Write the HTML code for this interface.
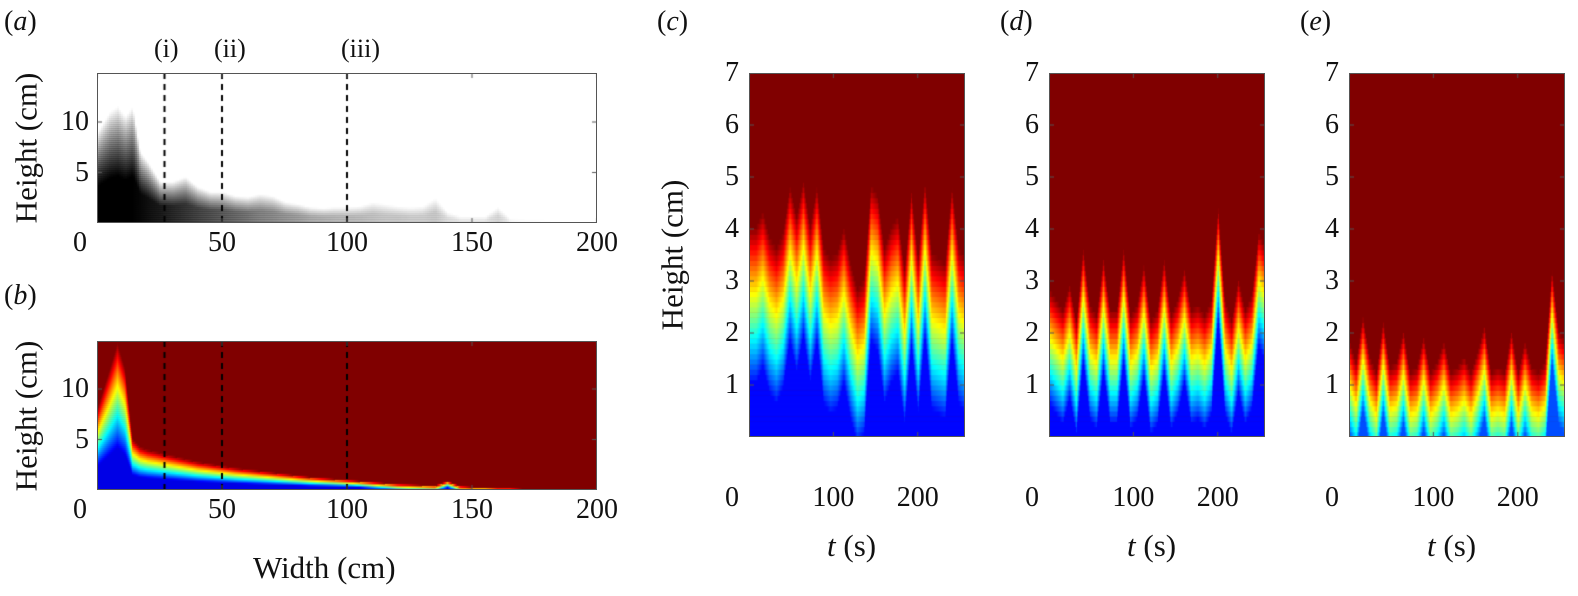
<!DOCTYPE html>
<html><head><meta charset="utf-8">
<style>
body{margin:0;background:#fff;width:1578px;height:596px;overflow:hidden;position:relative;font-family:"Liberation Serif","Times New Roman",Times,"DejaVu Serif",serif;}
.t{position:absolute;font-size:28px;color:#111;white-space:nowrap;line-height:1;font-family:"Liberation Serif","Times New Roman",Times,"DejaVu Serif",serif;}
canvas{position:absolute;}
.box{position:absolute;border:1.5px solid #555;box-sizing:border-box;}
</style></head><body>
<div class="t" style="left:4px;top:8px">(<i>a</i>)</div>
<div class="t" style="left:4px;top:282px">(<i>b</i>)</div>
<div class="t" style="left:657px;top:8px">(<i>c</i>)</div>
<div class="t" style="left:1000px;top:8px">(<i>d</i>)</div>
<div class="t" style="left:1300px;top:8px">(<i>e</i>)</div>
<div class="t" style="left:154px;top:36px;font-size:26px">(i)</div>
<div class="t" style="left:214px;top:36px;font-size:26px">(ii)</div>
<div class="t" style="left:341px;top:36px;font-size:26px">(iii)</div>
<div id="root"></div>
<script>
// ---- data ----
const widthCats=[0,5,8,11,14,17,20,25,30,35,40,45,50,55,60,65,70,75,80,85,90,95,100,105,110,115,120,125,130,135,140,145,150,155,160,165,170,175,180,190,200];
const aFront=[9,11,11.5,10.5,11.5,7,6,4,4,4.5,3.5,3,3,2.6,2.5,2.8,2.6,2,1.8,1.5,1.4,1.5,1.5,1.6,2,1.8,1.6,1.5,1.6,2.4,1,0.6,0.6,0.6,1.5,0.4,0.3,0.3,0.2,0,0];
const aDark=[1,1,1,1,1,.97,.93,.88,.82,.76,.7,.65,.6,.55,.5,.45,.42,.38,.35,.3,.28,.26,.25,.24,.22,.2,.2,.18,.18,.2,.12,.1,.1,.1,.15,.06,.05,.04,.03,0,0];
const bFront=[8,12,14.5,12,5,4.2,3.9,3.6,3.3,3.0,2.7,2.5,2.3,2.1,1.95,1.8,1.65,1.5,1.35,1.2,1.1,1.0,0.9,0.8,0.7,0.6,0.5,0.45,0.4,0.35,0.8,0.3,0.2,0.2,0.1,0.1,0,0,0,0,0];
const timeCats=[0,8,16,24,32,40,48,56,64,72,80,88,96,104,112,120,128,136,144,152,160,168,176,184,192,200,208,216,224,232,240,248,256];
const cFront=[4.0,4.0,4.3,3.8,3.6,3.9,4.8,4.2,4.9,4.0,4.8,3.6,3.4,3.5,4.0,3.3,2.8,3.0,4.8,4.6,3.6,4.0,4.2,3.2,4.7,3.4,4.9,3.5,3.4,3.3,4.8,3.6,3.4];
const dFront=[2.8,2.6,2.4,2.9,2.2,3.6,2.5,2.3,3.4,2.4,2.4,3.6,2.3,2.5,3.3,2.2,2.4,3.4,2.3,2.6,3.2,2.4,2.5,2.3,2.6,4.4,2.6,2.2,3.0,2.4,2.7,3.9,3.6];
const eFront=[1.8,1.4,2.3,1.5,1.2,2.2,1.3,1.4,2.0,1.2,1.3,1.9,1.2,1.4,1.8,1.2,1.3,1.5,1.2,1.6,2.1,1.2,1.3,1.2,2.0,1.2,1.8,1.3,1.2,1.4,3.2,2.0,1.8];
const xTicksW=[0,50,100,150,200];
const xTicksT=[0,100,200];
const yTicksA=[5,10];
const yTicksC=[1,2,3,4,5,6,7];
const dashedAt=[27,50,100];

const root=document.getElementById('root');
function jet(v){const c=x=>Math.round(255*Math.max(0,Math.min(1,x)));return `rgb(${c(1.5-Math.abs(4*v-3))},${c(1.5-Math.abs(4*v-2))},${c(1.5-Math.abs(4*v-1))})`;}
function lerp(cats,vals,x){for(let i=0;i<cats.length-1;i++){if(x<=cats[i+1]){const f=(x-cats[i])/(cats[i+1]-cats[i]);return vals[i]+(vals[i+1]-vals[i])*f;}}return vals[vals.length-1];}
function txt(s,x,y,name,extra){const d=document.createElement('div');d.className='t';d.innerHTML=s;d.style.left=x+'px';d.style.top=y+'px';if(extra)d.style.cssText+=extra;


root.appendChild(d);return d;}
function canvasAt(x,y,w,h,name){const c=document.createElement('canvas');c.width=w;c.height=h;c.style.left=x+'px';c.style.top=y+'px';


root.appendChild(c);return c.getContext('2d');}
function box(x,y,w,h,name){const b=document.createElement('div');b.className='box';b.style.left=x+'px';b.style.top=y+'px';b.style.width=w+'px';b.style.height=h+'px';


root.appendChild(b);}
function ticks(ctx,W,H,xs,ys,xf,yf){ctx.strokeStyle='#555';ctx.lineWidth=1;
xs.forEach(v=>{const x=xf(v);ctx.beginPath();ctx.moveTo(x,0);ctx.lineTo(x,5);ctx.moveTo(x,H);ctx.lineTo(x,H-5);ctx.stroke();});
ys.forEach(v=>{const y=yf(v);ctx.beginPath();ctx.moveTo(0,y);ctx.lineTo(5,y);ctx.moveTo(W,y);ctx.lineTo(W-5,y);ctx.stroke();});}

// ---- panel a / b ----
const WX0=97,WW=500;
const wx=v=>v/200*WW;
function widthPanel(top,H,name,draw){
 const ctx=canvasAt(WX0,top,WW,H,name);
 const hy=v=>H-v*10.1;
 draw(ctx,hy);
 ctx.setLineDash([6,5]);ctx.strokeStyle='#000';ctx.lineWidth=2;
 dashedAt.forEach(v=>{ctx.beginPath();ctx.moveTo(wx(v),0);ctx.lineTo(wx(v),H);ctx.stroke();});
 ctx.setLineDash([]);
 ticks(ctx,WW,H,xTicksW,yTicksA,wx,hy);
 box(WX0,top,WW,H,name+'-frame');
 xTicksW.forEach(v=>txt(String(v),WX0+wx(v)-(v==0?24:String(v).length*7),top+H+6,name+'-xtick-'+v));
 yTicksA.forEach(v=>txt(String(v),WX0-(v>=10?36:22),top+hy(v)-14,name+'-ytick-'+v));
 txt('Height (cm)',26,top+H/2,name+'-ylabel','transform:translate(-50%,-50%) rotate(-90deg);font-size:31px;');
}
widthPanel(73,150,'panel-a-heatmap',(ctx,hy)=>{
 for(let px=0;px<WW;px+=2){const w=px/WW*200;const f=lerp(widthCats,aFront,w),dk=lerp(widthCats,aDark,w);
  for(let z=0;z<15;z+=0.2){let a=dk*Math.max(0,Math.min(1,(f-z)/Math.max(f*0.6,0.5)));
   if(a<=0)continue;ctx.fillStyle=`rgba(0,0,0,${a})`;ctx.fillRect(px,hy(z+0.2),2,hy(z)-hy(z+0.2)+0.5);}}
});
widthPanel(341,149,'panel-b-heatmap',(ctx,hy)=>{
 ctx.fillStyle='#800000';ctx.fillRect(0,0,WW,149);
 for(let px=0;px<WW;px+=1){const w=px/WW*200;const f=lerp(widthCats,bFront,w);const L=Math.max(0.6,f*0.7);
  for(let z=0;z<15;z+=0.2){if(z>=f)break;const v=Math.max(0.1,Math.min(1,0.12+0.88*(z-(f-L))/L));
   ctx.fillStyle=jet(v);ctx.fillRect(px,hy(z+0.2),1,hy(z)-hy(z+0.2)+0.5);}}
});
txt('Width (cm)',253,552,'x-axis-title-width','font-size:31px');

// ---- panels c,d,e ----
const TW=216,TH=364;
const tx=v=>v/256*TW, ty=v=>TH-v*52;
function timePanel(x0,front,L,floor,name){
 const ctx=canvasAt(x0,73,TW,TH,name);
 ctx.fillStyle='#800000';ctx.fillRect(0,0,TW,TH);
 for(let px=0;px<TW;px+=1){const t=px/TW*256;const f=lerp(timeCats,front,t);
  for(let z=0;z<7;z+=0.1){if(z>=f)break;const v=Math.max(floor,Math.min(1,floor+(1-floor)*(z-(f-L))/L));
   ctx.fillStyle=jet(v);ctx.fillRect(px,ty(z+0.1),1,ty(z)-ty(z+0.1)+0.5);}}
 ticks(ctx,TW,TH,xTicksT,yTicksC,tx,ty);
 box(x0,73,TW,TH,name+'-frame');
 yTicksC.forEach(v=>txt(String(v),x0-24,73+ty(v)-14,name+'-ytick-'+v));
 xTicksT.forEach(v=>txt(String(v),v==0?x0-24:x0+tx(v)-21,484,name+'-xtick-'+v));
 txt('<i>t</i>&nbsp;(s)',x0+78,530,name+'-xlabel','font-size:31px');
}
timePanel(749,cFront,3.0,0.13,'panel-c-heatmap');
timePanel(1049,dFront,2.2,0.13,'panel-d-heatmap');
timePanel(1349,eFront,1.8,0.2,'panel-e-heatmap');
txt('Height (cm)',672,255,'panel-c-ylabel','transform:translate(-50%,-50%) rotate(-90deg);font-size:31px;');
</script>
</body></html>
